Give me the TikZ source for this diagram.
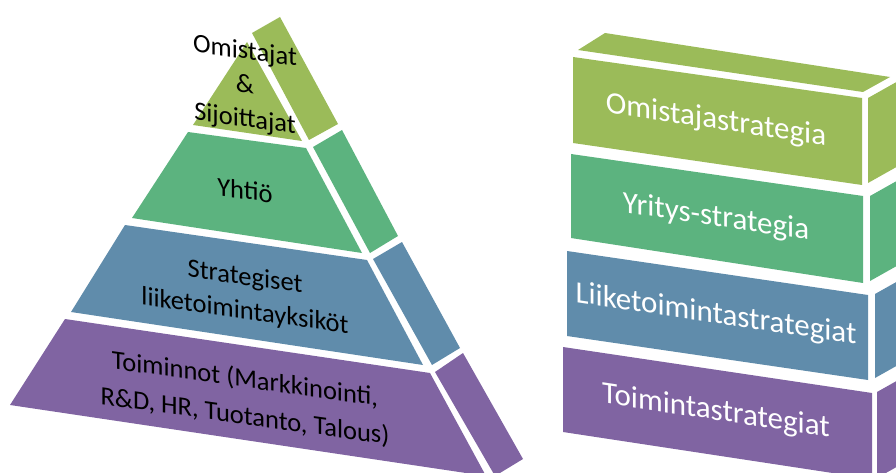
\documentclass[tikz,border=0pt]{standalone}
\usepackage{fontspec}
\setmainfont{Carlito}
\definecolor{cA}{HTML}{9BBB59}
\definecolor{cB}{HTML}{5CB37F}
\definecolor{cC}{HTML}{608CAB}
\definecolor{cD}{HTML}{8064A2}
\tikzset{
  ptext/.style={font=\fontsize{26.5}{34}\selectfont, align=center, text=black, inner sep=0pt, yslant=-0.14},
  btext/.style={font=\fontsize{31}{36}\selectfont, align=center, text=white, inner sep=0pt, yslant=-0.15},
}
\begin{document}
\begin{tikzpicture}[x=1pt,y=-1pt]
\useasboundingbox (0,0) rectangle (896,473);
\clip (0,0) rectangle (896,473);
% pyramid
\fill[cA] (247,42) -- (193,125) -- (302,141) -- cycle;
\fill[cA] (252,33) -- (280,17) -- (338,124) -- (309,140) -- cycle;
\fill[cB] (188,132) -- (306,148) -- (362,253) -- (132,218) -- cycle;
\fill[cB] (313,147) -- (342,130) -- (398,236) -- (370,253) -- cycle;
\fill[cC] (125,225) -- (367,260) -- (423,365) -- (71,312) -- cycle;
\fill[cC] (373,259) -- (402,242) -- (460,348) -- (432,365) -- cycle;
\fill[cD] (65,319) -- (430,373) -- (486,476) -- (10,405) -- cycle;
\fill[cD] (435,372) -- (463,353) -- (523,459) -- (495,476) -- cycle;
\node[ptext] (p1) at (245,86) {Omistajat\\\&\\Sijoittajat};
\node[ptext] (p2) at (245,190) {Yhtiö};
\node[ptext] (p3) at (245,295) {Strategiset\\liiketoimintayksiköt};
\node[ptext, font=\fontsize{26.5}{37}\selectfont] (p4) at (245,398) {Toiminnot (Markkinointi,\\R\&D, HR, Tuotanto, Talous)};
% boxes
\fill[cA] (578,50) -- (605,33) -- (890,77) -- (863,92) -- cycle;
\fill[cA] (573,57) -- (862,98) -- (862,185) -- (573,143) -- cycle;
\fill[cA] (868,98) -- (900,80) -- (900,165) -- (868,183) -- cycle;
\fill[cB] (571,154) -- (863,196) -- (863,283) -- (571,238) -- cycle;
\fill[cB] (870,196) -- (902,178) -- (902,263) -- (870,281) -- cycle;
\fill[cC] (567,251) -- (868,295) -- (868,380) -- (567,336) -- cycle;
\fill[cC] (875,294) -- (907,276) -- (907,360) -- (875,378) -- cycle;
\fill[cD] (563,347) -- (872,393) -- (872,479) -- (563,432) -- cycle;
\fill[cD] (877,392) -- (909,374) -- (909,460) -- (877,478) -- cycle;
\node[btext] (b1) at (716,121) {Omistajastrategia};
\node[btext] (b2) at (716,218) {Yritys-strategia};
\node[btext] (b3) at (716,315) {Liiketoimintastrategiat};
\node[btext] (b4) at (716,412) {Toimintastrategiat};
\end{tikzpicture}
\end{document}
